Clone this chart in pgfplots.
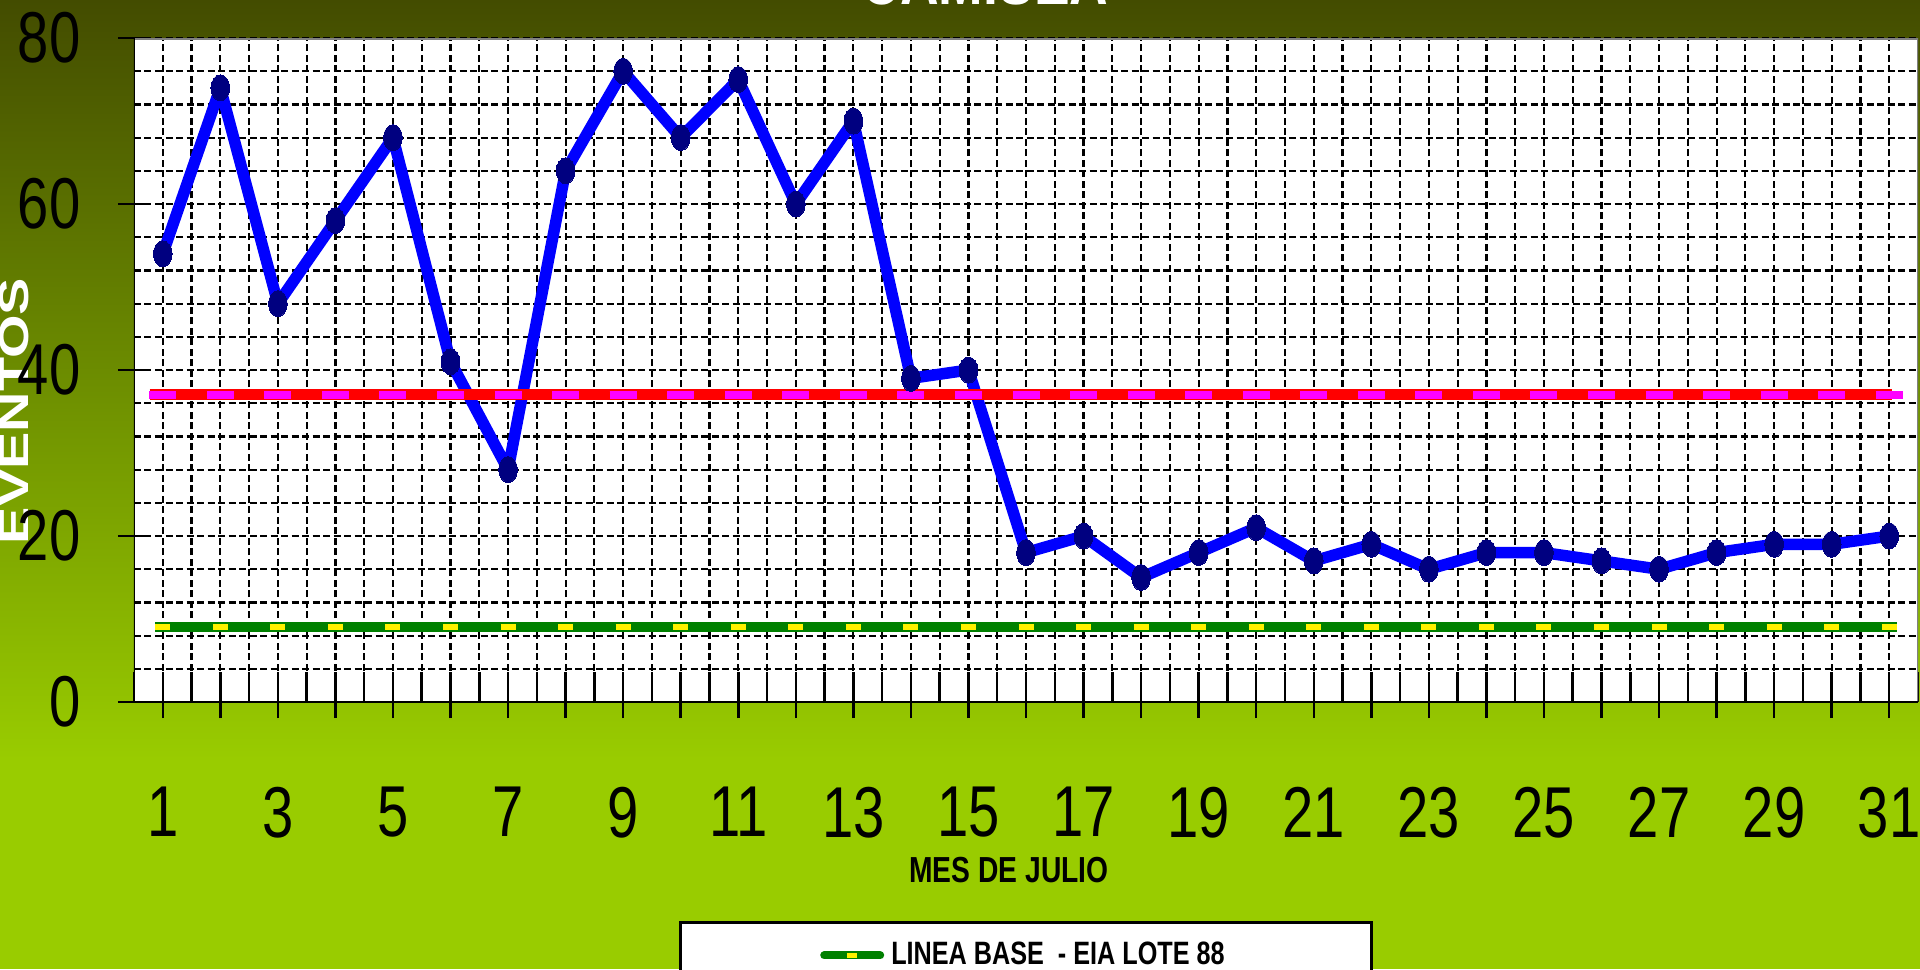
\documentclass[border=0pt]{standalone}
\usepackage{pgfplots}
\pgfplotsset{compat=1.18}
\usepackage{fontspec}
\setmainfont{Liberation Sans}
\newfontfamily\nsans[FakeStretch=0.78]{Liberation Sans}
\definecolor{bgtop}{HTML}{434C00}
\definecolor{bgmid}{HTML}{6F9100}
\definecolor{bgbot}{HTML}{99CC00}
\definecolor{lgreen}{HTML}{008000}
\definecolor{navyc}{HTML}{000080}
\definecolor{magc}{HTML}{FF00FF}
\begin{document}
\begin{tikzpicture}
\path[use as bounding box] (0,0) rectangle (192mm,96.9mm);
\fill[bgbot] (0,0) rectangle (192mm,21mm);
\shade[top color=bgmid, bottom color=bgbot] (0,20.9mm) rectangle (192mm,57mm);
\shade[top color=bgtop, bottom color=bgmid] (0,56.9mm) rectangle (192mm,96.9mm);
\node[anchor=base, text=white, inner sep=0pt] at (98.5mm,96.4mm) {\fontsize{19.5}{20}\bfseries\nsans CAMISEA};
\node[anchor=base, inner sep=0pt] at (100.9mm,8.7mm) {\fontsize{10.3}{11}\bfseries\nsans MES DE JULIO};
\node[rotate=90, anchor=base, inner sep=0pt, text=white] at (2.9mm,55.8mm) {\scalebox{1}[0.75]{\fontsize{15.9}{16}\selectfont\bfseries EVENTOS}};
\begin{axis}[
  at={(13.4mm,26.7mm)}, anchor=south west, scale only axis,
  width=178.4mm, height=66.4mm,
  xmin=0.5, xmax=31.5, ymin=0, ymax=80,
  axis background/.style={fill=white},
  axis line style={draw=none},
  xtick={1,...,31},
  xticklabels={1,,3,,5,,7,,9,,11,,13,,15,,17,,19,,21,,23,,25,,27,,29,,31},
  minor x tick num=1,
  ytick={0,20,...,80}, minor y tick num=4,
  grid=both,
  major grid style={black, line width=0.22mm, dash pattern=on 0.7mm off 0.35mm},
  minor grid style={black, line width=0.22mm, dash pattern=on 0.7mm off 0.35mm},
  xtick pos=bottom, ytick pos=left,
  tick align=center,
  major tick length=3.2mm, minor tick length=0mm,
  every tick/.style={black, line width=0.25mm},
  extra x ticks={0.5,1,...,31.5},
  extra x tick labels={},
  extra x tick style={grid=none, xtick align=inside, major tick length=3mm},
  /pgf/number format/assume math mode=true,
  xticklabel style={font=\fontsize{20.5}{20.5}\nsans, anchor=north, inner sep=0pt, yshift=-6.8mm},
  yticklabel style={font=\fontsize{20.5}{20.5}\nsans, anchor=east, inner sep=0pt, xshift=-3.7mm},
  legend style={at={(0.5,-0.3298)}, anchor=north, draw=black, line width=0.3mm, fill=white,
    inner xsep=14mm, inner ysep=1.2mm, font=\fontsize{9.2}{11}\bfseries\nsans},
  legend cell align=left,
]
\addplot[lgreen, line width=1mm, line cap=butt,
  legend image code/.code={\draw[lgreen, line width=0.8mm, line cap=round] (0mm,0mm) -- (5.6mm,0mm); \draw[yellow, line width=0.55mm] (2.3mm,0mm) -- (3.3mm,0mm);}]
  coordinates {(0.87,9) (31.13,9)};
\addlegendentry{LINEA BASE \ - EIA LOTE 88}
\addlegendimage{empty legend}\addlegendentry{\strut}
\addlegendimage{empty legend}\addlegendentry{\strut}
\addplot[forget plot, yellow, line width=0.6mm, line cap=butt, dash pattern=on 1.5mm off 4.2548mm]
  coordinates {(0.87,9) (31.13,9)};
\addplot[forget plot, blue, line width=1.15mm, line join=round, mark=*, mark size=1.3mm,
  mark options={navyc, fill=navyc, xscale=0.72, solid, line width=0pt}]
  coordinates {(1,54)(2,74)(3,48)(4,58)(5,68)(6,41)(7,28)(8,64)(9,76)(10,68)(11,75)(12,60)(13,70)
  (14,39)(15,40)(16,18)(17,20)(18,15)(19,18)(20,21)(21,17)(22,19)(23,16)(24,18)(25,18)(26,17)
  (27,16)(28,18)(29,19)(30,19)(31,20)};
\addplot[forget plot, red, line width=1.1mm, line cap=butt] coordinates {(0.77,37) (31.05,37)};
\addplot[forget plot, draw=magc, line width=0.75mm, line cap=butt, dash pattern=on 2.7mm off 3.0548mm]
  coordinates {(0.7654,37) (31.2346,37)};
\draw[gray, line width=0.3mm] (rel axis cs:0,1) -- (rel axis cs:1,1) -- (rel axis cs:1,0);
\draw[black, line width=0.3mm] (rel axis cs:0,1) -- (rel axis cs:0,0) -- (rel axis cs:1,0);
\end{axis}
\end{tikzpicture}
\end{document}
